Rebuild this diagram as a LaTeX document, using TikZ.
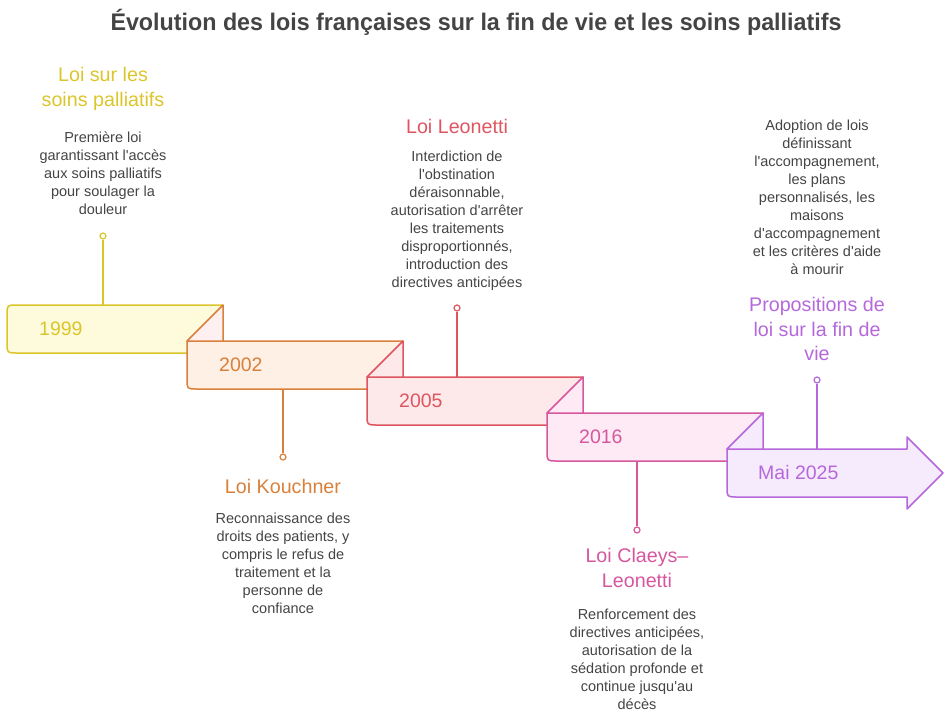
\documentclass[tikz,border=0pt]{standalone}
\usepackage{fontspec}
\setmainfont{Liberation Sans}[Ligatures=TeXOff]
\newfontfamily\titlefont[FakeStretch=0.97]{Liberation Sans}
\usetikzlibrary{positioning}

\definecolor{titlegray}{HTML}{444444}
\definecolor{descgray}{HTML}{444444}
\definecolor{cyel}{HTML}{DCC52A}
\definecolor{fyel}{HTML}{FEFADC}
\definecolor{cora}{HTML}{D9803A}
\definecolor{fora}{HTML}{FEF0E4}
\definecolor{cred}{HTML}{DE5560}
\definecolor{fred}{HTML}{FDE8EA}
\definecolor{cpink}{HTML}{D6579E}
\definecolor{fpink}{HTML}{FDEAF4}
\definecolor{cpur}{HTML}{B668DB}
\definecolor{fpur}{HTML}{F6EBFD}

\tikzset{
  desc/.style={align=center, text=descgray, font=\fontsize{14.5}{18}\selectfont, inner sep=0pt},
  head/.style={align=center, font=\fontsize{19.7}{24.5}\selectfont, inner sep=0pt},
  year/.style={anchor=west, font=\fontsize{19.5}{22}\selectfont, inner sep=0pt},
  pin/.style={circle, draw, fill=white, line width=1.2pt, inner sep=0pt, minimum size=6pt},
  stem/.style={line width=1.5pt},
  band/.style={line width=1.5pt, line join=round},
}

\begin{document}
\begin{tikzpicture}[x=1pt, y=-1pt]
   \useasboundingbox (0,0) rectangle (952,718);
   \node[font=\titlefont\bfseries\fontsize{24}{28}\selectfont, text=titlegray] (title) at (476,22) {Évolution des lois françaises sur la fin de vie et les soins palliatifs};

   % bands
   \draw[band, draw=cyel, fill=fyel] (17,305) -- (223,305) -- (223,353) -- (17,353) .. controls (7,353) .. (7,343) -- (7,315) .. controls (7,305) .. (17,305) -- cycle;
   \draw[band, draw=cora, fill=fora] (187,341) -- (403,341) -- (403,389) -- (197,389) .. controls (187,389) .. (187,379) -- cycle;
   \draw[band, draw=cora, fill=fred!70] (187,341) -- (223,305) -- (223,341) -- cycle;
   \draw[band, draw=cred, fill=fred] (367,377) -- (583,377) -- (583,425) -- (377,425) .. controls (367,425) .. (367,415) -- cycle;
   \draw[band, draw=cred, fill=fred] (367,377) -- (403,341) -- (403,377) -- cycle;
   \draw[band, draw=cpink, fill=fpink] (547,413) -- (763,413) -- (763,461) -- (557,461) .. controls (547,461) .. (547,451) -- cycle;
   \draw[band, draw=cpink, fill=fpink] (547,413) -- (583,377) -- (583,413) -- cycle;
   \draw[band, draw=cpur, fill=fpur] (727,449) -- (907,449) -- (907,437) -- (943,473) -- (907,509) -- (907,497) -- (737,497) .. controls (727,497) .. (727,487) -- cycle;
   \draw[band, draw=cpur, fill=fpur] (727,449) -- (763,413) -- (763,449) -- cycle;

   \node[year, text=cyel] (y1) at (39,329) {1999};
   \node[year, text=cora] (y2) at (219,365) {2002};
   \node[year, text=cred] (y3) at (399,401) {2005};
   \node[year, text=cpink] (y4) at (579,437) {2016};
   \node[year, text=cpur] (y5) at (758,473) {Mai 2025};

   % stems
   \node[pin, draw=cyel] (p1) at (103,236) {};
   \coordinate (s1) at (103,305);
   \draw[stem, cyel] (p1) -- (s1);
   \node[pin, draw=cora] (p2) at (283,457) {};
   \coordinate (s2) at (283,389);
   \draw[stem, cora] (s2) -- (p2);
   \node[pin, draw=cred] (p3) at (457,308) {};
   \coordinate (s3) at (457,377);
   \draw[stem, cred] (p3) -- (s3);
   \node[pin, draw=cpink] (p4) at (637,530) {};
   \coordinate (s4) at (637,461);
   \draw[stem, cpink] (s4) -- (p4);
   \node[pin, draw=cpur] (p5) at (817,380) {};
   \coordinate (s5) at (817,449);
   \draw[stem, cpur] (p5) -- (s5);

   % labels
   \node[head, text=cyel] (h1) at (103,89) {Loi sur les\\soins palliatifs};
   \node[desc] (d1) at (103,173) {Première loi\\garantissant l'accès\\aux soins palliatifs\\pour soulager la\\douleur};
   \node[head, text=cora] (h2) at (283,486) {Loi Kouchner};
   \node[desc] (d2) at (283,563) {Reconnaissance des\\droits des patients, y\\compris le refus de\\traitement et la\\personne de\\confiance};
   \node[head, text=cred] (h3) at (457,126) {Loi Leonetti};
   \node[desc] (d3) at (457,221) {Interdiction de\\l'obstination\\déraisonnable,\\autorisation d'arrêter\\les traitements\\disproportionnés,\\introduction des\\directives anticipées};
   \node[head, text=cpink] (h4) at (637,568) {Loi Claeys–\\Leonetti};
   \node[desc] (d4) at (637,659) {Renforcement des\\directives anticipées,\\autorisation de la\\sédation profonde et\\continue jusqu'au\\décès};
   \node[head, text=cpur] (h5) at (817,329) {Propositions de\\loi sur la fin de\\vie};
   \node[desc] (d5) at (817,197) {Adoption de lois\\définissant\\l'accompagnement,\\les plans\\personnalisés, les\\maisons\\d'accompagnement\\et les critères d'aide\\à mourir};
\end{tikzpicture}
\end{document}
